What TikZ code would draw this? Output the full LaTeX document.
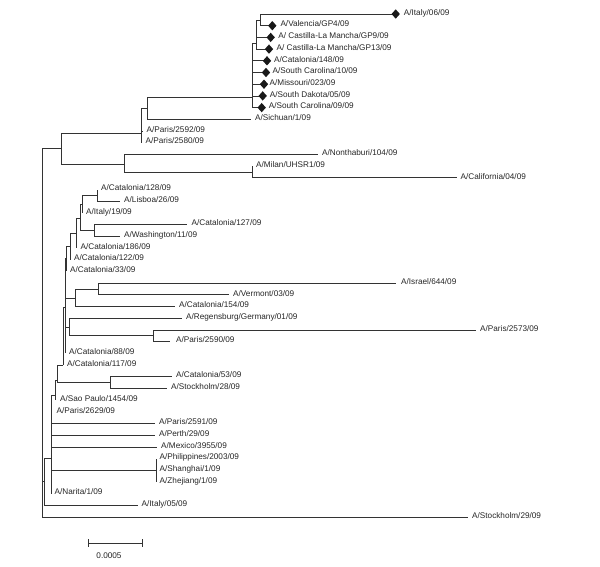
\documentclass[tikz,border=0pt]{standalone}
\usepackage{fontspec}
\setmainfont{Liberation Sans}
\usetikzlibrary{shapes.geometric}
\newcommand{\lf}[5]{\coordinate (#1) at (#2,#3); \node[lab,xshift=#4] (#1t) at (#1) {#5};}
\begin{document}
\begin{tikzpicture}[x=1pt,y=-1pt,
  br/.style={draw=black!80, line width=0.8pt},
  lab/.style={anchor=base west, inner sep=0pt, yshift=-1.2pt, font=\fontsize{8.2}{9}\selectfont, text=black!85},
  dia/.style={diamond, fill=black!90, draw=none, inner sep=0pt, minimum width=8.5pt, minimum height=9.5pt}]
\useasboundingbox (0,0) rectangle (600,566);
% internal nodes
\coordinate (R) at (42,148);
\coordinate (T) at (61,148);
\coordinate (A) at (141,133);
\coordinate (A1) at (147,108);
\coordinate (S) at (252,97);
\coordinate (S2) at (256,43);
\coordinate (S3) at (260,20);
\coordinate (B) at (124,164);
\coordinate (B1) at (252,172);
\coordinate (L) at (44,481);
\coordinate (W) at (51,458);
\coordinate (N55) at (55,395);
\coordinate (N57) at (57,380);
\coordinate (N63) at (63,365);
\coordinate (N65) at (65,307);
\coordinate (N66) at (66,258);
\coordinate (N70) at (70,246);
\coordinate (N76) at (76,233);
\coordinate (N80) at (80,218);
\coordinate (N82) at (82,204);
\coordinate (N128) at (97,195.3);
\coordinate (N94) at (94,230.5);
\coordinate (V75) at (75,298);
\coordinate (V98) at (98,289);
\coordinate (R69) at (69,327);
\coordinate (P153) at (153,335.8);
\coordinate (C110) at (110,382.5);
\coordinate (PSZ) at (156,470.3);
% leaves
\lf{it06}{395.7}{14}{8pt}{A/Italy/06/09}
\lf{val}{272.3}{25.7}{8pt}{A/Valencia/GP4/09}
\lf{gp9}{270.7}{37.4}{7.5pt}{A/ Castilla-La Mancha/GP9/09}
\lf{gp13}{269}{49.1}{7.5pt}{A/ Castilla-La Mancha/GP13/09}
\lf{c148}{267}{60.8}{7pt}{A/Catalonia/148/09}
\lf{sc10}{266}{72.5}{6.5pt}{A/South Carolina/10/09}
\lf{mis}{264}{84.2}{5.5pt}{A/Missouri/023/09}
\lf{sd}{262.7}{95.9}{7pt}{A/South Dakota/05/09}
\lf{sc09}{261.7}{107.6}{7pt}{A/South Carolina/09/09}
\lf{sich}{251}{119.3}{4pt}{A/Sichuan/1/09}
\lf{p2592}{143}{131}{3.5pt}{A/Paris/2592/09}
\lf{p2580}{141}{142.7}{4.5pt}{A/Paris/2580/09}
\lf{non}{318}{154.4}{4pt}{A/Nonthaburi/104/09}
\lf{mil}{252}{166.1}{4pt}{A/Milan/UHSR1/09}
\lf{cal}{457}{177.8}{3.5pt}{A/California/04/09}
\lf{c128}{97}{189.5}{4pt}{A/Catalonia/128/09}
\lf{lis}{120}{201.2}{4pt}{A/Lisboa/26/09}
\lf{it19}{82}{212.9}{4pt}{A/Italy/19/09}
\lf{c127}{187}{224.6}{4.5pt}{A/Catalonia/127/09}
\lf{was}{120}{236.3}{4pt}{A/Washington/11/09}
\lf{c186}{76}{248}{4.5pt}{A/Catalonia/186/09}
\lf{c122}{70}{259.7}{4pt}{A/Catalonia/122/09}
\lf{c33}{66}{271.4}{4pt}{A/Catalonia/33/09}
\lf{isr}{396}{283.1}{5pt}{A/Israel/644/09}
\lf{ver}{229}{294.8}{4pt}{A/Vermont/03/09}
\lf{c154}{175}{306.5}{4pt}{A/Catalonia/154/09}
\lf{reg}{182}{318.2}{4pt}{A/Regensburg/Germany/01/09}
\lf{p2573}{476}{329.9}{4pt}{A/Paris/2573/09}
\lf{p2590}{170}{341.6}{6pt}{A/Paris/2590/09}
\lf{c88}{65}{353.3}{4pt}{A/Catalonia/88/09}
\lf{c117}{63}{365}{4pt}{A/Catalonia/117/09}
\lf{c53}{172}{376.7}{4pt}{A/Catalonia/53/09}
\lf{st28}{167}{388.4}{4pt}{A/Stockholm/28/09}
\lf{sao}{55}{400.1}{5pt}{A/Sao Paulo/1454/09}
\lf{p2629}{51}{411.8}{5.5pt}{A/Paris/2629/09}
\lf{p2591}{155}{423.5}{4pt}{A/Paris/2591/09}
\lf{per}{155}{435.2}{4pt}{A/Perth/29/09}
\lf{mex}{157}{446.9}{4pt}{A/Mexico/3955/09}
\lf{phi}{156}{458.6}{3.5pt}{A/Philippines/2003/09}
\lf{sha}{156}{470.3}{3.5pt}{A/Shanghai/1/09}
\lf{zhe}{156}{482}{3.5pt}{A/Zhejiang/1/09}
\lf{nar}{51}{493.7}{3.5pt}{A/Narita/1/09}
\lf{it05}{138}{505.4}{3.5pt}{A/Italy/05/09}
\lf{st29}{468}{517}{4pt}{A/Stockholm/29/09}
% branches
\foreach \p/\c in {R/T,R/L,R/st29,T/A,T/B,A/A1,A/p2592,A/p2580,A1/S,A1/sich,
  S/S2,S/c148,S/sc10,S/mis,S/sd,S/sc09,S2/S3,S2/gp13,S2/gp9,S3/it06,S3/val,
  B/non,B/B1,B1/mil,B1/cal,L/W,L/it05,W/N55,W/p2629,W/p2591,W/per,W/mex,W/PSZ,W/nar,
  PSZ/phi,PSZ/sha,PSZ/zhe,N55/N57,N55/sao,N57/N63,N57/C110,C110/c53,C110/st28,
  N63/N65,N63/c117,N65/N66,N65/V75,N65/R69,N65/c88,V75/V98,V75/c154,V98/isr,V98/ver,
  R69/reg,R69/P153,P153/p2573,P153/p2590,N66/N70,N66/c33,N70/N76,N70/c122,
  N76/N80,N76/c186,N80/N82,N80/N94,N94/c127,N94/was,N82/N128,N82/it19,N128/c128,N128/lis}
  \draw[br] (\p) |- (\c);
% diamonds
\foreach \n in {it06,val,gp9,gp13,c148,sc10,mis,sd,sc09}
  \node[dia] (d\n) at (\n) {};
% scale bar
\coordinate (sbL) at (88,543);
\coordinate (sbR) at (142,543);
\draw[br] (sbL) -- (sbR);
\draw[br] ([yshift=4pt]sbL) -- ([yshift=-4pt]sbL);
\draw[br] ([yshift=4pt]sbR) -- ([yshift=-4pt]sbR);
\node[font=\fontsize{8.2}{9}\selectfont, text=black!85, inner sep=0pt] (sbt) at (109,556) {0.0005};
\end{tikzpicture}
\end{document}
